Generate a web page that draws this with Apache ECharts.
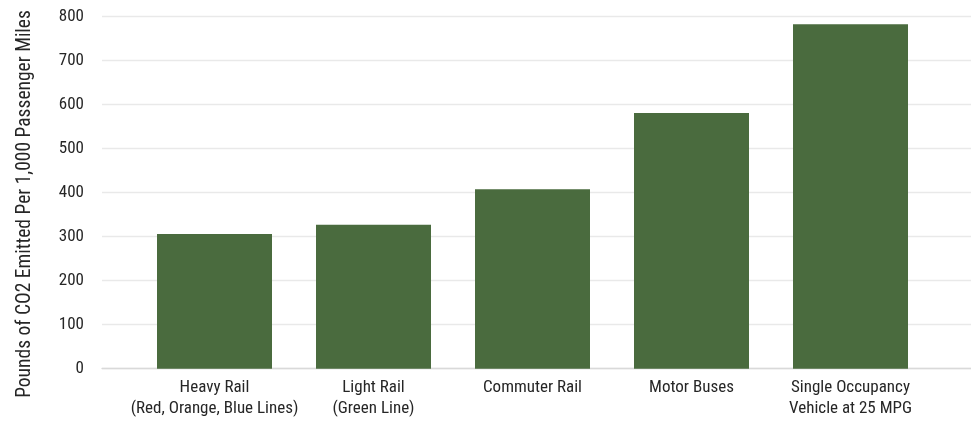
<!DOCTYPE html>
<html>
<head>
<meta charset="utf-8">
<script src="https://cdn.jsdelivr.net/npm/echarts@6/dist/echarts.min.js"></script>
<style>
  html, body { margin: 0; padding: 0; background: #ffffff; }
  #chart { width: 971px; height: 422px; }
</style>
</head>
<body>
<div id="chart"></div>
<script>
// CO2 emitted per 1,000 passenger miles, by mode
const categories = [
  'Heavy Rail\n(Red, Orange, Blue Lines)',
  'Light Rail\n(Green Line)',
  'Commuter Rail',
  'Motor Buses',
  'Single Occupancy\nVehicle at 25 MPG'
];
const emissions = [306, 327, 408, 581, 783];
const yTicks = [0, 100, 200, 300, 400, 500, 600, 700, 800];
const yTitle = 'Pounds of CO2 Emitted Per 1,000 Passenger Miles';

const FONT = '"Roboto Condensed", "Liberation Sans Narrow", "Arial Narrow", sans-serif';
const TEXT = '#262626';
const BAR = '#4a6b3e';

const chart = echarts.init(document.getElementById('chart'), null, { renderer: 'canvas' });

const yMin = yTicks[0];
const yMax = yTicks[yTicks.length - 1];
const yStep = yTicks[1] - yTicks[0];

chart.setOption({
  animation: false,
  backgroundColor: '#ffffff',
  grid: [
    // wide frame carrying the value axis and gridlines
    { left: 102, right: 0, top: 16.7, bottom: 53.3 },
    // bar area
    { left: 135, right: 41, top: 16.7, bottom: 53.3 }
  ],
  graphic: [
    {
      type: 'text', x: 25, y: 204, rotation: Math.PI / 2,
      style: {
        text: yTitle, fill: TEXT, font: '19.5px ' + FONT,
        textAlign: 'center', textVerticalAlign: 'middle'
      }
    }
  ],
  xAxis: [
    {
      gridIndex: 0, type: 'value', min: 0, max: 1,
      axisLine: { show: true, onZero: false, lineStyle: { color: '#d9d9d9', width: 1.3 } },
      axisTick: { show: false }, axisLabel: { show: false }, splitLine: { show: false }
    },
    {
      gridIndex: 1, type: 'category', data: categories,
      axisLine: { show: false }, axisTick: { show: false },
      axisLabel: {
        interval: 0, margin: 9, color: TEXT, fontFamily: FONT,
        fontSize: 17, lineHeight: 21
      }
    }
  ],
  yAxis: [
    {
      gridIndex: 0, type: 'value', min: yMin, max: yMax, interval: yStep,
      axisLine: { show: false }, axisTick: { show: false },
      axisLabel: { margin: 18, color: TEXT, fontFamily: FONT, fontSize: 17 },
      splitLine: { lineStyle: { color: '#e9e9e9', width: 1.3 } }
    },
    {
      gridIndex: 1, type: 'value', min: yMin, max: yMax, interval: yStep,
      axisLine: { show: false }, axisTick: { show: false },
      axisLabel: { show: false }, splitLine: { show: false }
    }
  ],
  series: [
    {
      type: 'bar', xAxisIndex: 1, yAxisIndex: 1,
      data: emissions, barWidth: 115,
      itemStyle: { color: BAR }
    }
  ]
});
</script>
</body>
</html>
